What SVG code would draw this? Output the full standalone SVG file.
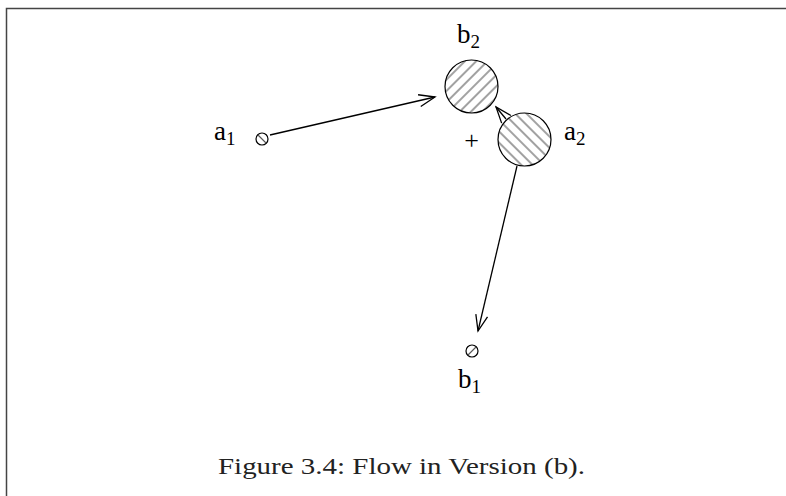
<svg xmlns="http://www.w3.org/2000/svg" width="786" height="496" viewBox="0 0 786 496">
<defs>
<pattern id="hr" patternUnits="userSpaceOnUse" width="8" height="8" patternTransform="rotate(-45)">
<line x1="0" y1="4" x2="8" y2="4" stroke="#555" stroke-width="1.1"/>
</pattern>
<pattern id="hl" patternUnits="userSpaceOnUse" width="8" height="8" patternTransform="rotate(45)">
<line x1="0" y1="4" x2="8" y2="4" stroke="#555" stroke-width="1.1"/>
</pattern>
<marker id="ah" viewBox="0 0 20 20" refX="18" refY="10" markerWidth="20" markerHeight="20" markerUnits="userSpaceOnUse" orient="auto">
<path d="M2,4 L18,10 L2,16" fill="none" stroke="#000" stroke-width="1.3"/>
</marker>
</defs>
<rect width="786" height="496" fill="#fff"/>
<path d="M6.5,496 V8.5 H786" fill="none" stroke="#444" stroke-width="1.5"/>
<g id="connectors" stroke="#000" stroke-width="1.3" fill="none">
<line x1="270" y1="135" x2="435" y2="97" marker-end="url(#ah)"/>
<line x1="506" y1="119" x2="496" y2="107" marker-end="url(#ah)"/>
<line x1="517" y1="166" x2="478" y2="331" marker-end="url(#ah)"/>
</g>
<g font-family="Liberation Serif, serif" font-size="27" fill="#000">
<g id="b2">
<circle cx="471.5" cy="86.5" r="26.5" fill="url(#hr)" stroke="#000" stroke-width="1.2"/>
<text x="457" y="43">b<tspan font-size="19" dy="5">2</tspan></text>
</g>
<g id="a2">
<circle cx="524.5" cy="139.5" r="26.5" fill="url(#hl)" stroke="#000" stroke-width="1.2"/>
<text x="564" y="140">a<tspan font-size="19" dy="5">2</tspan></text>
</g>
<g id="plus">
<text x="471.5" y="149" text-anchor="middle" font-size="26">+</text>
</g>
<g id="a1">
<circle cx="262" cy="139" r="6" fill="#fff" stroke="#000" stroke-width="1.2"/>
<line x1="258" y1="135" x2="266" y2="143" stroke="#555" stroke-width="1.1"/>
<text x="214" y="140">a<tspan font-size="19" dy="5">1</tspan></text>
</g>
<g id="b1">
<circle cx="472" cy="351" r="6" fill="#fff" stroke="#000" stroke-width="1.2"/>
<line x1="468" y1="355" x2="476" y2="347" stroke="#555" stroke-width="1.1"/>
<text x="458" y="388">b<tspan font-size="19" dy="5">1</tspan></text>
</g>
</g>
<text x="218" y="474" font-family="Liberation Serif, serif" font-size="23" fill="#222" textLength="367" lengthAdjust="spacingAndGlyphs">Figure 3.4: Flow in Version (b).</text>
</svg>
